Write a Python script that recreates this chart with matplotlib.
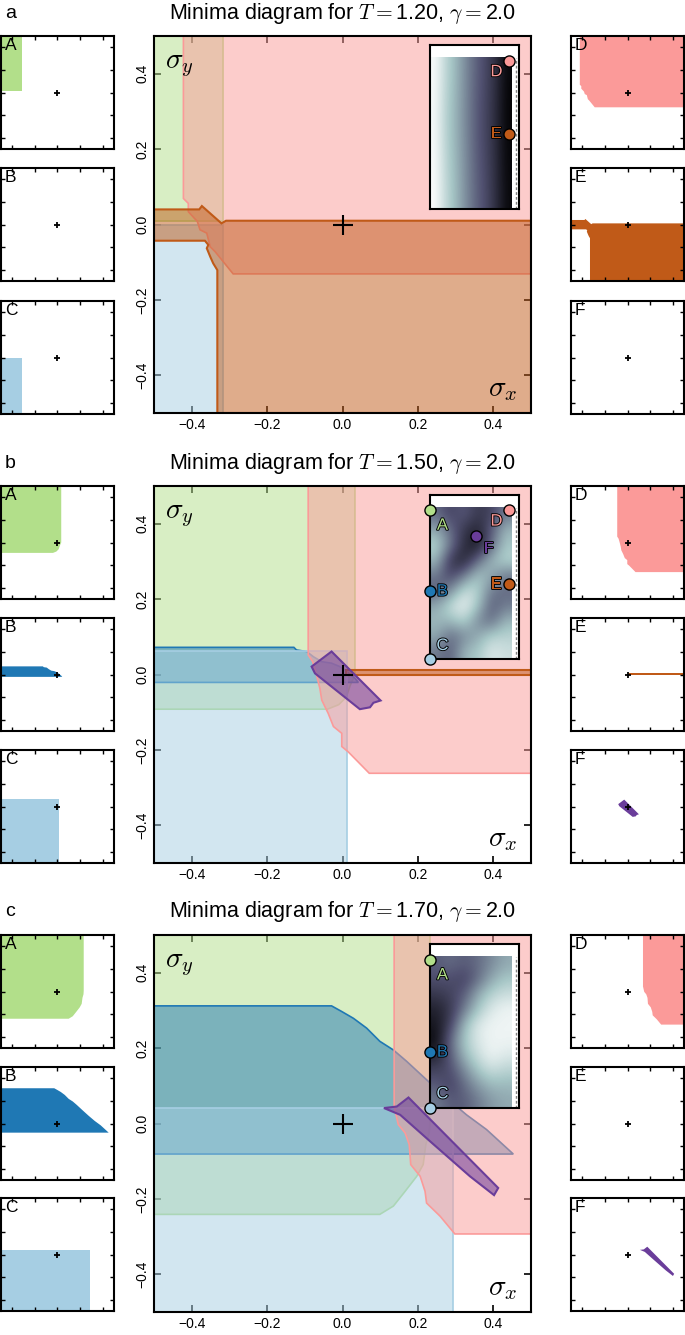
import numpy as np
import matplotlib.pyplot as plt
from matplotlib import patheffects as pe
from matplotlib.colors import to_rgba

plt.rcParams["font.family"] = ["Liberation Sans", "DejaVu Sans"]
plt.rcParams["mathtext.fontset"] = "cm"

# ---------------- data ----------------
temps = ["1.20", "1.50", "1.70"]
panel_tags = ["a", "b", "c"]
letters = ["A", "B", "C", "D", "E", "F"]
colors = {"A": "#b2df8a", "B": "#1f78b4", "C": "#a6cee3",
          "D": "#fb9a99", "E": "#c05a18", "F": "#6a3d9a"}

# panel a (T = 1.20)
a_A_x = [-0.5, -0.318, -0.318, -0.5]
a_A_y = [0.5, 0.5, 0.01, 0.01]
a_C_x = [-0.5, -0.318, -0.318, -0.5]
a_C_y = [0.0, 0.0, -0.5, -0.5]
a_D_x = [-0.422, 0.5, 0.5, -0.290, -0.338, -0.351, -0.360, -0.378, -0.385, -0.409, -0.409, -0.422]
a_D_y = [0.5, 0.5, -0.131, -0.131, -0.072, -0.059, -0.023, -0.014, 0.008, 0.034, 0.056, 0.069]
a_E_x = [-0.5, -0.380, -0.373, -0.321, -0.309, 0.5, 0.5, -0.332, -0.332, -0.343, -0.351, -0.360, -0.356, -0.365, -0.5]
a_E_y = [0.040, 0.040, 0.049, 0.003, 0.010, 0.010, -0.5, -0.5, -0.121, -0.103, -0.085, -0.063, -0.054, -0.043, -0.043]

# panel b (T = 1.50)
b_A_x = [-0.5, 0.033, 0.033, 0.020, 0.010, -0.010, -0.040, -0.5]
b_A_y = [0.5, 0.5, 0.0, -0.030, -0.060, -0.080, -0.092, -0.092]
b_B_x = [-0.5, -0.129, -0.122, -0.095, -0.077, -0.055, -0.029, -0.007, 0.011, 0.033, 0.042, -0.5]
b_B_y = [0.072, 0.072, 0.065, 0.061, 0.047, 0.034, 0.030, 0.021, 0.008, -0.010, -0.021, -0.021]
b_C_x = [-0.5, 0.013, 0.013, -0.5]
b_C_y = [0.062, 0.062, -0.5, -0.5]
b_D_x = [-0.091, 0.5, 0.5, 0.071, 0.015, -0.002, -0.002, -0.024, -0.038, -0.055, -0.060, -0.069, -0.079, -0.091]
b_D_y = [0.5, 0.5, -0.262, -0.262, -0.205, -0.191, -0.156, -0.138, -0.103, -0.068, -0.037, -0.001, 0.034, 0.052]
b_E_x = [0.010, 0.5, 0.5, 0.010]
b_E_y = [0.012, 0.012, -0.001, -0.001]
b_F_x = [-0.029, 0.101, 0.082, 0.073, 0.046, -0.073, -0.082]
b_F_y = [0.061, -0.069, -0.075, -0.087, -0.092, 0.003, 0.021]

# panel c (T = 1.70)
c_A_x = [-0.5, 0.232, 0.232, 0.230, 0.221, 0.214, 0.197, 0.166, 0.135, 0.099, -0.5]
c_A_y = [0.5, 0.5, 0.006, -0.025, -0.056, -0.109, -0.140, -0.180, -0.219, -0.241, -0.241]
c_B_x = [-0.5, -0.029, -0.002, 0.029, 0.064, 0.099, 0.135, 0.170, 0.223, 0.276, 0.329, 0.382, 0.453, -0.5]
c_B_y = [0.312, 0.312, 0.297, 0.279, 0.253, 0.218, 0.195, 0.165, 0.116, 0.068, 0.023, -0.016, -0.081, -0.081]
c_C_x = [-0.5, 0.292, 0.292, -0.5]
c_C_y = [0.041, 0.041, -0.5, -0.5]
c_D_x = [0.137, 0.5, 0.5, 0.298, 0.259, 0.223, 0.219, 0.206, 0.181, 0.177, 0.166, 0.148, 0.137]
c_D_y = [0.5, 0.5, -0.293, -0.293, -0.246, -0.211, -0.180, -0.140, -0.109, -0.056, -0.025, -0.003, 0.045]
c_F_x = [0.110, 0.144, 0.175, 0.413, 0.402, 0.338, 0.232, 0.153]
c_F_y = [0.041, 0.045, 0.069, -0.171, -0.190, -0.140, -0.047, 0.023]

# inset landscapes (rows top -> bottom, 0 = white, 1 = black)
a_img = [[0.02, 0.18, 0.30, 0.45, 0.58, 0.68, 0.80, 0.97],
         [0.03, 0.20, 0.32, 0.46, 0.60, 0.70, 0.82, 0.98],
         [0.02, 0.19, 0.31, 0.45, 0.59, 0.69, 0.81, 0.97],
         [0.01, 0.17, 0.29, 0.44, 0.57, 0.67, 0.80, 0.96]]
b_img = [[0.55, 0.70, 0.60, 0.75, 0.70, 0.50],
         [0.35, 0.55, 0.75, 0.85, 0.60, 0.30],
         [0.20, 0.50, 0.80, 0.90, 0.55, 0.25],
         [0.30, 0.75, 0.85, 0.55, 0.30, 0.20],
         [0.50, 0.70, 0.50, 0.25, 0.35, 0.50],
         [0.60, 0.45, 0.15, 0.20, 0.50, 0.55],
         [0.35, 0.15, 0.05, 0.25, 0.60, 0.50],
         [0.30, 0.30, 0.20, 0.45, 0.55, 0.30],
         [0.35, 0.55, 0.45, 0.35, 0.20, 0.20],
         [0.50, 0.60, 0.30, 0.25, 0.10, 0.15]]
c_img = [[0.60, 0.55, 0.60, 0.55, 0.45, 0.35],
         [0.65, 0.65, 0.70, 0.55, 0.35, 0.25],
         [0.75, 0.70, 0.60, 0.35, 0.20, 0.15],
         [0.85, 0.75, 0.50, 0.25, 0.10, 0.05],
         [0.90, 0.70, 0.30, 0.10, 0.05, 0.05],
         [0.95, 0.55, 0.25, 0.10, 0.05, 0.05],
         [0.85, 0.60, 0.30, 0.15, 0.05, 0.10],
         [0.70, 0.65, 0.45, 0.25, 0.15, 0.20],
         [0.60, 0.70, 0.55, 0.40, 0.30, 0.30],
         [0.50, 0.60, 0.60, 0.50, 0.40, 0.35]]

# minima markers in the insets
a_mark_labels = ["D", "E"]
a_mark_x = [0.888, 0.888]
a_mark_y = [0.905, 0.461]
b_mark_labels = ["A", "D", "B", "E", "C", "F"]
b_mark_x = [0.0, 0.888, 0.0, 0.888, 0.0, 0.52]
b_mark_y = [0.909, 0.909, 0.415, 0.457, 0.0, 0.75]
c_mark_labels = ["A", "B", "C"]
c_mark_x = [0.0, 0.0, 0.0]
c_mark_y = [0.905, 0.342, 0.004]

regions = [
    {"A": (a_A_x, a_A_y), "C": (a_C_x, a_C_y), "D": (a_D_x, a_D_y), "E": (a_E_x, a_E_y)},
    {"A": (b_A_x, b_A_y), "B": (b_B_x, b_B_y), "C": (b_C_x, b_C_y),
     "D": (b_D_x, b_D_y), "E": (b_E_x, b_E_y), "F": (b_F_x, b_F_y)},
    {"A": (c_A_x, c_A_y), "B": (c_B_x, c_B_y), "C": (c_C_x, c_C_y),
     "D": (c_D_x, c_D_y), "F": (c_F_x, c_F_y)},
]
images = [a_img, b_img, c_img]
marks = [(a_mark_labels, a_mark_x, a_mark_y),
         (b_mark_labels, b_mark_x, b_mark_y),
         (c_mark_labels, c_mark_x, c_mark_y)]

# label offsets (points) next to inset markers
label_off = {"A": (9, -11), "B": (9, 0), "C": (9, 10),
             "D": (-9, -8), "E": (-9, 0), "F": (9, -9)}

# ---------------- layout ----------------
W, H = 685, 1335
fig = plt.figure(figsize=(W / 100, H / 100), dpi=100)


def add_ax(left, top, w, h):
    return fig.add_axes([left / W, 1 - (top + h) / H, w / W, h / H])


main_tops = [36, 486, 935]
small_tops = [[36, 168, 301], [486, 618, 750], [935, 1067, 1198]]
title_y = [14, 464, 912]
ticks = [-0.4, -0.2, 0.0, 0.2, 0.4]

for p in range(3):
    reg = regions[p]

    fig.text(5 / W, 1 - title_y[p] / H, panel_tags[p], fontsize=14, va="center")
    fig.text(342.5 / W, 1 - title_y[p] / H,
             "Minima diagram for $T=$" + temps[p] + ", $\\gamma=$2.0",
             fontsize=15.5, ha="center", va="center")

    # main diagram
    ax = add_ax(154, main_tops[p], 377, 377)
    for L in letters:
        if L not in reg:
            continue
        x, y = reg[L]
        alpha = 0.55 if L == "F" else 0.5
        lw = 1.5 if L in ("E", "F") else 1.2
        ax.fill(x, y, facecolor=to_rgba(colors[L], alpha), edgecolor=colors[L],
                lw=lw, zorder=2)
    ax.plot([0], [0], "k+", ms=15, mew=1.5, zorder=6)
    ax.set_xlim(-0.5, 0.5)
    ax.set_ylim(-0.5, 0.5)
    ax.set_xticks(ticks)
    ax.set_yticks(ticks)
    ax.tick_params(direction="in", top=True, right=True, length=5, width=1.2,
                   labelsize=10)
    ax.tick_params(axis="y", labelrotation=90)
    for lab in ax.get_yticklabels():
        lab.set_va("center")
    for s in ax.spines.values():
        s.set_linewidth(1.5)
    ax.text(0.03, 0.915, "$\\sigma_y$", transform=ax.transAxes, fontsize=21,
            va="baseline")
    ax.text(0.965, 0.045, "$\\sigma_x$", transform=ax.transAxes, fontsize=21,
            ha="right", va="baseline")

    # inset landscape
    axi = ax.inset_axes([0.732, 0.54, 0.236, 0.436])
    axi.imshow(np.array(images[p]), cmap="bone_r", vmin=0, vmax=1,
               extent=(0, 0.918, 0, 0.919), aspect="auto",
               interpolation="bicubic")
    axi.plot([0.967, 0.967], [0.0, 0.919], color="0.5", lw=1.0,
             ls=(0, (2, 1.5)))
    axi.set_xlim(0, 1)
    axi.set_ylim(0, 1)
    axi.set_xticks([])
    axi.set_yticks([])
    for s in axi.spines.values():
        s.set_linewidth(1.5)
    labs, mx, my = marks[p]
    for L, x, y in zip(labs, mx, my):
        axi.plot([x], [y], "o", ms=8, mfc=colors[L], mec="k", mew=1,
                 clip_on=False, zorder=8)
        axi.annotate(L, (x, y), xytext=label_off[L], textcoords="offset points",
                     color=colors[L], fontsize=12, ha="center", va="center",
                     zorder=9, annotation_clip=False,
                     path_effects=[pe.withStroke(linewidth=1.3, foreground="k")])

    # small per-minimum panels
    for i, L in enumerate(letters):
        left = 1 if i < 3 else 571
        top = small_tops[p][i % 3]
        sa = add_ax(left, top, 113, 113)
        if L in reg:
            x, y = reg[L]
            sa.fill(x, y, color=colors[L], lw=0)
        sa.plot([0], [0], "k+", ms=5, mew=1.3)
        sa.set_xlim(-0.5, 0.5)
        sa.set_ylim(-0.5, 0.5)
        sa.set_xticks(ticks)
        sa.set_yticks(ticks)
        sa.tick_params(direction="in", top=True, right=True, length=3, width=1,
                       labelbottom=False, labelleft=False)
        for s in sa.spines.values():
            s.set_linewidth(1.5)
        sa.text(0.035, 0.985, L, transform=sa.transAxes, fontsize=12.5,
                ha="left", va="top")

fig.savefig("out.png", dpi=100)
